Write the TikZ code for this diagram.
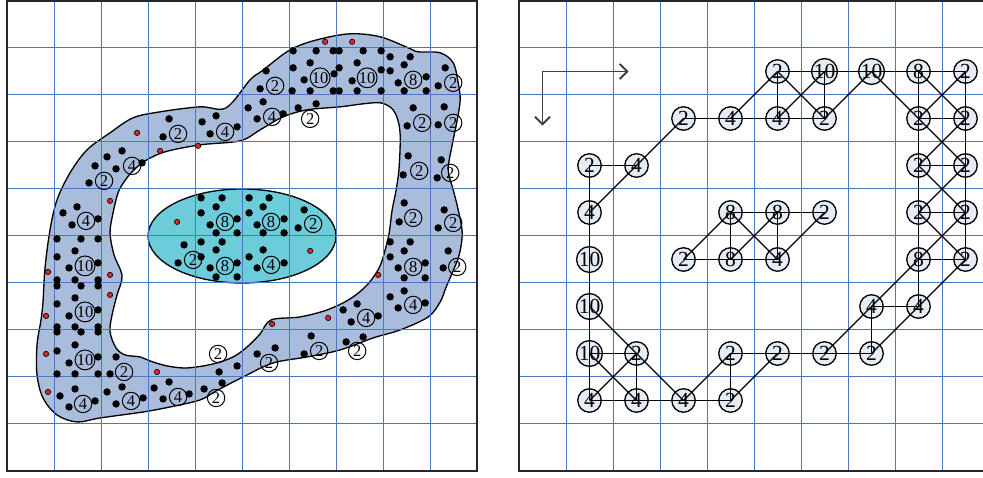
\documentclass[tikz,border=0pt]{standalone}
\usepackage{fontspec}
\setmainfont{Liberation Serif}
\usetikzlibrary{arrows.meta}
\definecolor{gridblue}{HTML}{4A78C2}
\definecolor{ringblue}{HTML}{AABCDC}
\definecolor{lakecyan}{HTML}{6DCCD9}
\definecolor{cellfill}{HTML}{E4ECF5}
\definecolor{noise}{HTML}{E3262B}
\tikzset{
  gridline/.style={draw=gridblue,line width=0.6pt},
  frame/.style={draw=black!85,line width=1pt},
  blob/.style={draw=black,line width=0.8pt},
  count/.style={circle,draw,line width=0.6pt,inner sep=0pt,minimum size=0.37cm,
    font=\fontsize{10}{10}\selectfont},
  cell/.style={circle,draw,line width=0.8pt,fill=cellfill,inner sep=0pt,minimum size=0.5cm,
    font=\fontsize{13}{13}\selectfont},
  link/.style={line width=0.7pt},
  axis/.style={draw=black!75,line width=1.1pt,-{Straight Barb[length=1.6mm,width=3.2mm]}},
}
\begin{document}
\begin{tikzpicture}
  \useasboundingbox (-0.149,-0.128) rectangle (20.766,10.021);
  \begin{scope}[x=0.02128cm,y=-0.02128cm,shift={(-7,-471)}]
    \filldraw[blob,fill=ringblue,even odd rule]
      plot[smooth cycle,tension=0.55] coordinates {
        (50,230) (57,200) (70,173) (87,150) (110,133) (133,118) (160,112) (200,107)
        (226,108) (250,80) (262,71) (290,50) (317,40) (350,34) (380,37) (408,48)
        (418,52) (440,53) (453,63) (458,83) (460,100) (457,120) (452,145) (448,170)
        (453,190) (458,210) (462,233) (459,255) (452,273) (446,287) (440,302) (428,317)
        (400,330) (373,338) (340,350) (307,357) (273,363) (245,376) (216,391) (200,400)
        (170,407) (143,412) (100,418) (77,422) (57,415) (43,398) (37,375) (37,345)
        (41,320) (43,302) (45,268)}
      plot[smooth cycle,tension=0.55] coordinates {
        (110,233) (113,213) (118,193) (124,182) (132,172) (145,161) (165,152) (200,145)
        (240,141) (260,130) (283,117) (307,110) (340,107) (363,104) (380,103) (391,108)
        (397,118) (400,135) (399,167) (396,190) (392,210) (389,233) (385,250) (379,268)
        (367,285) (350,299) (327,310) (300,317) (271,320) (260,334) (247,347) (233,357)
        (213,364) (187,368) (167,366) (150,361) (140,357) (125,355) (116,348) (110,332)
        (112,315) (117,295) (122,276) (114,255)};
  \end{scope}
  \filldraw[blob,fill=lakecyan] (5,5) ellipse (2 and 1);
  \draw[gridline] (0,0) grid (10,10);
  \draw[frame] (0,0) rectangle (10,10);
  \begin{scope}[x=0.02128cm,y=-0.02128cm,shift={(-7,-471)}]
    \foreach \x/\y in {266/71,260/89,293/51,316/51,333/51,310/63,293/68,304/80,334/74,292/91,
        310/91,333/91,339/51,363/51,381/51,357/63,339/68,381/70,352/81,339/91,357/91,381/91,
        390/57,410/57,404/65,390/71,426/77,398/83,404/91,426/91,445/68,438/86,
        169/119,163/137,202/122,216/116,210/134,237/127,248/108,263/102,257/119,283/114,
        298/108,316/104,413/108,407/126,444/107,438/125,
        95/166,89/183,122/151,107/157,116/169,142/163,408/156,403/175,441/160,437/178,
        77/207,63/213,72/225,98/219,201/198,222/198,201/213,216/207,237/219,210/225,216/233,
        237/233,249/198,269/198,249/213,263/207,284/219,257/225,263/233,284/233,304/210,
        298/228,404/203,399/222,444/210,438/228,
        57/239,81/239,98/239,75/251,57/257,98/263,69/268,57/280,75/280,98/280,184/245,178/263,
        201/242,222/242,216/250,201/257,210/268,216/277,237/263,237/277,249/257,263/250,
        257/268,284/263,390/242,410/242,404/251,390/257,425/263,398/268,404/278,425/278,
        448/251,443/268,
        57/286,81/286,98/286,75/298,57/304,98/310,69/316,57/327,75/327,98/327,343/310,357/304,
        351/322,378/316,390/297,404/291,398/308,425/303,
        57/332,81/332,98/332,75/345,57/351,98/357,69/363,57/374,75/374,98/374,116/357,110/374,
        219/372,237/366,257/354,275/348,311/336,304/354,346/342,363/337,
        60/396,75/389,69/407,95/401,107/392,122/387,116/404,143/398,154/388,169/382,163/399,
        189/394,204/389,222/383}
      \fill (\x,\y) circle (2.25pt);
    \foreach \x/\y in {137/133,198/146,160/151,110/201,177/222,325/42,352/42,48/272,110/275,
        110/295,46/316,46/354,48/392,157/372,310/251,378/275,328/318,272/324}
      \filldraw[fill=noise,line width=0.4pt] (\x,\y) circle (1.6pt);
    \foreach \id/\x/\y/\v in {58/275/86/2,68/320/78/10,78/367/78/10,88/413/80/8,98/453/83/2,
        37/178/134/2,47/225/132/4,57/272/117/4,67/310/119/2,87/422/123/2,97/453/123/2,
        16/104/181/2,26/132/166/4,86/419/171/2,96/450/173/2,
        15/86/221/4,45/225/222/8,55/271/222/8,65/313/224/2,85/413/218/2,95/453/223/2,
        14/85/266/10,34/193/260/2,44/225/266/8,54/271/265/4,84/413/267/8,94/457/267/2,
        13/85/312/10,73/366/318/4,83/413/305/4,
        12/85/360/10,22/124/372/2,42/218/354/2,52/269/363/2,62/319/351/2,72/357/351/2,
        11/83/404/4,21/131/401/4,31/178/397/4,41/216/398/2}
      \node[count] (l\id) at (\x,\y) {\v};
  \end{scope}
  \begin{scope}[xshift=10.894cm]
    \draw[gridline] (0,0) grid (10,10);
    \draw[frame] (0,0) rectangle (10,10);
    \coordinate (corner) at (0.5,8.5);
    \coordinate (xend) at (2.33,8.5);
    \coordinate (yend) at (0.5,7.35);
    \draw[axis] (corner) -- (xend);
    \draw[axis] (corner) -- (yend);
    \foreach \c/\r/\v in {5/8/2,6/8/10,7/8/10,8/8/8,9/8/2,
        3/7/2,4/7/4,5/7/4,6/7/2,8/7/2,9/7/2,
        1/6/2,2/6/4,8/6/2,9/6/2,
        1/5/4,4/5/8,5/5/8,6/5/2,8/5/2,9/5/2,
        1/4/10,3/4/2,4/4/8,5/4/4,8/4/8,9/4/2,
        1/3/10,7/3/4,8/3/4,
        1/2/10,2/2/2,4/2/2,5/2/2,6/2/2,7/2/2,
        1/1/4,2/1/4,3/1/4,4/1/2}
      \node[cell] (n\c\r) at (\c+.5,\r+.5) {\v};
    \foreach \a/\b in {58/68,68/78,78/88,88/98,37/47,47/57,57/67,87/97,16/26,86/96,45/55,55/65,
        85/95,34/44,44/54,84/94,73/83,12/22,42/52,52/62,62/72,11/21,21/31,31/41,
        16/15,15/14,14/13,13/12,12/11,58/57,68/67,88/87,87/86,86/85,85/84,84/83,
        98/97,97/96,96/95,95/94,45/44,55/54,73/72,22/21,42/41,
        37/26,26/15,47/58,58/67,68/57,67/78,78/87,88/97,98/87,87/96,97/86,86/95,96/85,
        85/94,95/84,45/34,45/54,55/44,65/54,84/73,73/62,94/83,83/72,52/41,42/31,
        13/22,22/31,12/21,22/11}
      \draw[link] (n\a.center) -- (n\b.center);
  \end{scope}
\end{tikzpicture}
\end{document}
